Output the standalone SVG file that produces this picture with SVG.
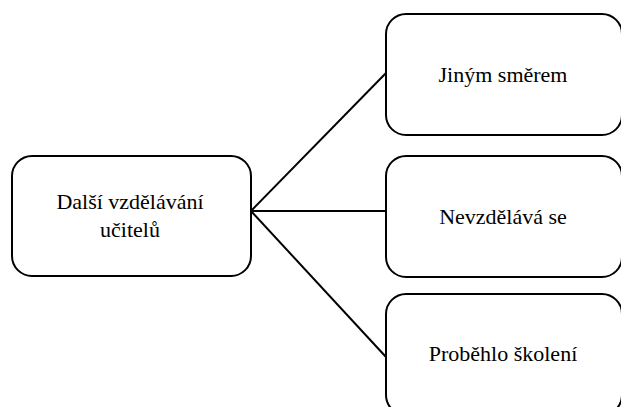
<svg xmlns="http://www.w3.org/2000/svg" width="621" height="407" viewBox="0 0 621 407">
<style>
.box{fill:#fff;stroke:#000;stroke-width:2}
.con{stroke:#000;stroke-width:2;fill:none}
</style>
<rect width="621" height="407" fill="#fff"/>
<g id="connectors">
<line class="con" x1="251" y1="211" x2="386" y2="73"/>
<line class="con" x1="251" y1="211" x2="386" y2="211"/>
<line class="con" x1="251" y1="211" x2="386" y2="357"/>
</g>
<g font-family="Liberation Serif, DejaVu Serif, serif" font-size="22" fill="#000" text-anchor="middle">
<g id="root">
<rect class="box" x="12" y="156" width="239" height="120" rx="20"/>
<text x="130" y="209">Další vzdělávání</text>
<text x="130" y="237">učitelů</text>
</g>
<g id="n1">
<rect class="box" x="386" y="14" width="236" height="121" rx="20"/>
<text x="503" y="82">Jiným směrem</text>
</g>
<g id="n2">
<rect class="box" x="386" y="156" width="236" height="121" rx="20"/>
<text x="503" y="224">Nevzdělává se</text>
</g>
<g id="n3">
<rect class="box" x="386" y="294" width="236" height="121" rx="20"/>
<text x="503" y="361">Proběhlo školení</text>
</g>
</g>
</svg>
